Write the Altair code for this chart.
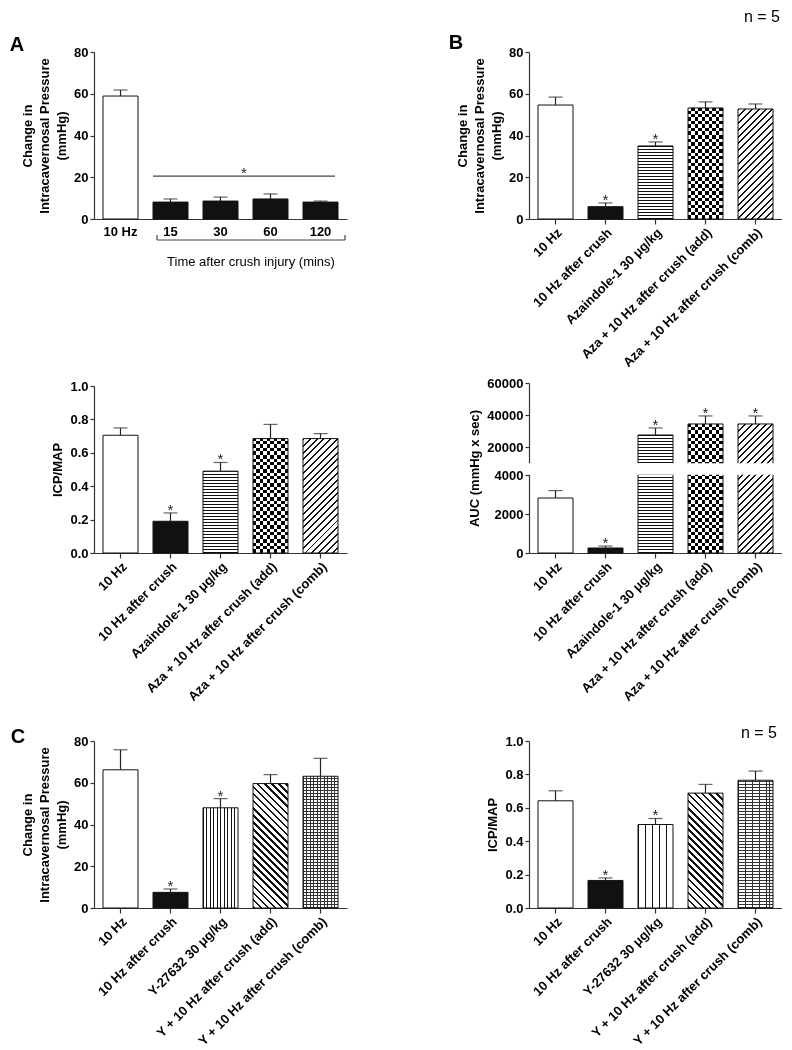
import math
import altair as alt
import numpy as np
import pandas as pd

FONT = "Liberation Sans"

# ---------------- data ----------------
a_cats = ["10 Hz", "15", "30", "60", "120"]
a_mean = [58.9, 8.1, 8.6, 9.6, 8.1]
a_sem = [2.9, 1.5, 1.9, 2.4, 0.5]
a_sig = ["", "", "", "", ""]

b_cats = ["10 Hz", "10 Hz after crush", "Azaindole-1 30 μg/kg",
          "Aza + 10 Hz after crush (add)", "Aza + 10 Hz after crush (comb)"]
b_icp = [54.6, 5.9, 35.0, 53.2, 52.7]
b_icp_sem = [3.8, 1.8, 1.9, 2.9, 2.4]
b_icp_sig = ["", "*", "*", "", ""]

b_ratio = [0.705, 0.19, 0.49, 0.685, 0.685]
b_ratio_sem = [0.044, 0.05, 0.052, 0.085, 0.03]
b_ratio_sig = ["", "*", "*", "", ""]

b_auc = [2820, 256, 27500, 34400, 34400]
b_auc_sem = [380, 100, 4400, 5000, 5000]
b_auc_sig = ["", "*", "*", "*", "*"]

c_cats = ["10 Hz", "10 Hz after crush", "Y-27632 30 μg/kg",
          "Y + 10 Hz after crush (add)", "Y + 10 Hz after crush (comb)"]
c_icp = [66.2, 7.5, 48.0, 59.6, 63.1]
c_icp_sem = [9.6, 1.6, 4.4, 4.3, 8.6]
c_icp_sig = ["", "*", "*", "", ""]

c_ratio = [0.642, 0.165, 0.50, 0.688, 0.765]
c_ratio_sem = [0.06, 0.015, 0.036, 0.052, 0.055]
c_ratio_sig = ["", "*", "*", "", ""]

pat_a = ["white", "black", "black", "black", "black"]
pat_b = ["white", "black", "hstripe", "checker", "fdiag"]
pat_c = ["white", "black", "vstripe", "bdiag", "grid"]

# ---------------- styling helpers ----------------
W = 253
BW = 35
L_EXT = 86
R_LEFT = 96


def stripe_stops(length, period, dark_w, dark, light):
    stops = []
    pos = 0.0
    length = max(length, 1.0)
    while pos < length - 1e-6:
        a = round(pos / length, 6)
        b = round(min((pos + dark_w) / length, 1.0), 6)
        c = round(min((pos + period) / length, 1.0), 6)
        stops.append(alt.GradientStop(offset=a, color=dark))
        stops.append(alt.GradientStop(offset=b, color=dark))
        if b < 1.0:
            stops.append(alt.GradientStop(offset=b, color=light))
            stops.append(alt.GradientStop(offset=c, color=light))
        pos += period
    return stops


def grad_h(h, period, dark_w, dark="#111", light="white"):
    # starts at the bar's base so that lines sit on whole pixels
    return alt.LinearGradient(gradient="linear",
                              stops=stripe_stops(h, period, dark_w, dark, light),
                              x1=0, y1=1, x2=0, y2=0)


def grad_v(w, period, dark_w, dark="#111", light="white"):
    return alt.LinearGradient(gradient="linear",
                              stops=stripe_stops(w, period, dark_w, dark, light),
                              x1=0, y1=0, x2=1, y2=0)


def grad_diag(w, h, period, dark_w, up=True, dark="#111", light="white"):
    a = (w + h) / (w * w + h * h)
    length = (w + h) / math.sqrt(2)
    st = stripe_stops(length, period, dark_w, dark, light)
    if up:
        return alt.LinearGradient(gradient="linear", stops=st,
                                  x1=0, y1=0, x2=a * w, y2=a * h)
    return alt.LinearGradient(gradient="linear", stops=st,
                              x1=0, y1=1, x2=a * w, y2=1 - a * h)


def pattern_fills(pat, w, h):
    if pat == "white":
        return [("white", None)]
    if pat == "black":
        return [("#111", None)]
    if pat == "hstripe":
        return [(grad_h(h, 3.0, 1.0), None)]
    if pat == "vstripe":
        return [(grad_v(w, 3.5, 1.0), None)]
    if pat == "checker":
        p = 7.0
        return [(grad_v(w, p, p / 2, "black", "white"), None),
                (grad_h(h, p, p / 2, "black", "white"), "difference")]
    if pat == "fdiag":
        return [(grad_diag(w, h, 4.8, 1.4, up=True), None)]
    if pat == "bdiag":
        return [(grad_diag(w, h, 5.0, 1.9, up=False), None)]
    if pat == "grid":
        return [(grad_h(h, 3.0, 1.0, "#333", "white"), None),
                (grad_v(w, 3.5, 1.0, "#333", "rgba(255,255,255,0)"), None)]
    return [("white", None)]


dummy = pd.DataFrame({"d": [0]})


def txt(s, x, y, size=13, weight="normal", align="center"):
    return alt.Chart(dummy).mark_text(font=FONT, fontSize=size, fontWeight=weight,
                                      align=align, baseline="middle", color="black").encode(
        x=alt.value(x), y=alt.value(y), text=alt.value(s))


def make_panel(cats, means, sems, sigs, patterns, ytitle, yscale, yvalues, H, hpix,
               T, B, R, xangle=-45, xticks=True, yformat=None, extras=()):
    df = pd.DataFrame({"cat": cats, "mean": means,
                       "top": [m + s for m, s in zip(means, sems)], "sig": sigs})
    xaxis = alt.Axis(title=None, labelAngle=xangle, ticks=xticks, tickSize=5,
                     labelPadding=(6 if xangle == 0 else 2), labelLimit=0,
                     labelFontSize=13)
    yk = dict(title=ytitle, values=yvalues, tickSize=4, labelPadding=2,
              titlePadding=5, titleLineHeight=17)
    if yformat:
        yk["format"] = yformat
    yaxis = alt.Axis(**yk)
    X = alt.X("cat:N", sort=cats,
              scale=alt.Scale(domain=cats, paddingInner=0.3, paddingOuter=0.18),
              axis=xaxis)
    Y = alt.Y("mean:Q", scale=yscale, axis=yaxis)
    Ytop = alt.Y("top:Q", scale=yscale, axis=yaxis)

    layers = []
    for i, pat in enumerate(patterns):
        sub = df.iloc[[i]]
        h = hpix(means[i])
        for fill, blend in pattern_fills(pat, BW, h):
            kw = dict(width=BW, fill=fill)
            if blend:
                kw["blend"] = blend
            layers.append(alt.Chart(sub).mark_bar(**kw).encode(x=X, y=Y))
    layers.append(alt.Chart(df).mark_bar(width=BW, fill="transparent", stroke="#111",
                                         strokeWidth=1).encode(x=X, y=Y))
    layers.append(alt.Chart(df).mark_rule(color="#222", strokeWidth=1.2).encode(
        x=X, y=Y, y2="top:Q"))
    layers.append(alt.Chart(df).mark_tick(color="#222", size=14, thickness=1.2).encode(
        x=X, y=Ytop))
    layers.append(alt.Chart(df).mark_text(font=FONT, fontSize=15, baseline="alphabetic",
                                          dy=2, color="#222").encode(
        x=X, y=Ytop, text="sig:N"))
    for e in extras:
        layers.append(e(X, Y))
    # invisible layout extents
    layers.append(alt.Chart(dummy).mark_rule(opacity=0, strokeOpacity=0).encode(
        x=alt.value(-L_EXT), x2=alt.value(W + R), y=alt.value(-T), y2=alt.value(H + B)))
    return alt.layer(*layers).properties(width=W, height=H)


def lin(ymax, H):
    return lambda v: v / ymax * H


H = 167
s80 = alt.Scale(domain=[0, 80], nice=False, zero=True)
s1 = alt.Scale(domain=[0, 1.0], nice=False, zero=True)
icp_title = ["Change in", "Intracavernosal Pressure", "(mmHg)"]


# ---------- panel A extras ----------
def a_extras_sig(X, Y):
    d = pd.DataFrame({"mean": [20.5]})
    line = alt.Chart(d).mark_rule(color="#444", strokeWidth=1.2).encode(
        x=alt.value(59), x2=alt.value(241), y=Y)
    star = alt.Chart(d).mark_text(font=FONT, fontSize=15, baseline="alphabetic", dy=2,
                                  color="#222").encode(x=alt.value(150), y=Y,
                                                       text=alt.value("*"))
    return alt.layer(line, star)


def a_extras_bracket(X, Y):
    r1 = alt.Chart(dummy).mark_rule(color="#444", strokeWidth=1.2).encode(
        x=alt.value(63), x2=alt.value(251), y=alt.value(H + 21))
    r2 = alt.Chart(dummy).mark_rule(color="#444", strokeWidth=1.2).encode(
        x=alt.value(63), y=alt.value(H + 16), y2=alt.value(H + 21))
    r3 = alt.Chart(dummy).mark_rule(color="#444", strokeWidth=1.2).encode(
        x=alt.value(251), y=alt.value(H + 16), y2=alt.value(H + 21))
    t = txt("Time after crush injury (mins)", 157, H + 43, 13)
    return alt.layer(r1, r2, r3, t)


def letter(s, x, y):
    return lambda X, Y: txt(s, x, y, 20, "bold")


def nlabel(x, y):
    return lambda X, Y: txt("n = 5", x, y, 16)


pA = make_panel(a_cats, a_mean, a_sem, a_sig, pat_a, icp_title, s80, [0, 20, 40, 60, 80],
                H, lin(80, H), T=44, B=149, R=R_LEFT, xangle=0, xticks=False,
                extras=(a_extras_sig, a_extras_bracket, letter("A", -77, -7)))

pB = make_panel(b_cats, b_icp, b_icp_sem, b_icp_sig, pat_b, icp_title, s80,
                [0, 20, 40, 60, 80], H, lin(80, H), T=44, B=149, R=0,
                extras=(letter("B", -73, -9), nlabel(233, -35)))

pM1 = make_panel(b_cats, b_ratio, b_ratio_sem, b_ratio_sig, pat_b, "ICP/MAP", s1,
                 [0, 0.2, 0.4, 0.6, 0.8, 1.0], H, lin(1.0, H), T=16, B=168, R=R_LEFT,
                 yformat=".1f")

# AUC panel: broken axis drawn with a piecewise scale; the top of the
# upper segment sits 3px above the panel's top edge, as in the reference
auc_dom = [0, 4000, 10000, 60000]
auc_px = [0, 78, 90, 170]
auc_rng = [H - p for p in auc_px]
s_auc = alt.Scale(domain=auc_dom, range=auc_rng, nice=False, zero=False)


def auc_pix(v):
    return float(np.interp(v, auc_dom, auc_px))


def auc_gap(X, Y):
    d = pd.DataFrame({"mean": [4150], "top": [9900]})
    return alt.Chart(d).mark_rect(fill="white").encode(
        x=alt.value(-2), x2=alt.value(W), y=Y, y2="top:Q")


pM2 = make_panel(b_cats, b_auc, b_auc_sem, b_auc_sig, pat_b, "AUC (mmHg x sec)", s_auc,
                 [0, 2000, 4000, 20000, 40000, 60000], H, auc_pix, T=16, B=168, R=0,
                 yformat="d", extras=(auc_gap,))

pC1 = make_panel(c_cats, c_icp, c_icp_sem, c_icp_sig, pat_c, icp_title, s80,
                 [0, 20, 40, 60, 80], H, lin(80, H), T=20, B=125, R=R_LEFT,
                 extras=(letter("C", -76, -4),))

pC2 = make_panel(c_cats, c_ratio, c_ratio_sem, c_ratio_sig, pat_c, "ICP/MAP", s1,
                 [0, 0.2, 0.4, 0.6, 0.8, 1.0], H, lin(1.0, H), T=20, B=125, R=0,
                 yformat=".1f", extras=(nlabel(230, -8),))

chart = alt.concat(pA, pB, pM1, pM2, pC1, pC2, columns=2, spacing=0).properties(
    align="each", padding=0
).configure_axis(
    labelFont=FONT, titleFont=FONT, labelFontSize=13, titleFontSize=13,
    labelFontWeight="bold", titleFontWeight="bold", labelColor="black",
    titleColor="black", domainColor="#333", tickColor="#333", domainWidth=1.2,
    tickWidth=1.2, grid=False
).configure_view(strokeWidth=0)

chart.save("out.html", embed_options={"renderer": "svg", "actions": False})
